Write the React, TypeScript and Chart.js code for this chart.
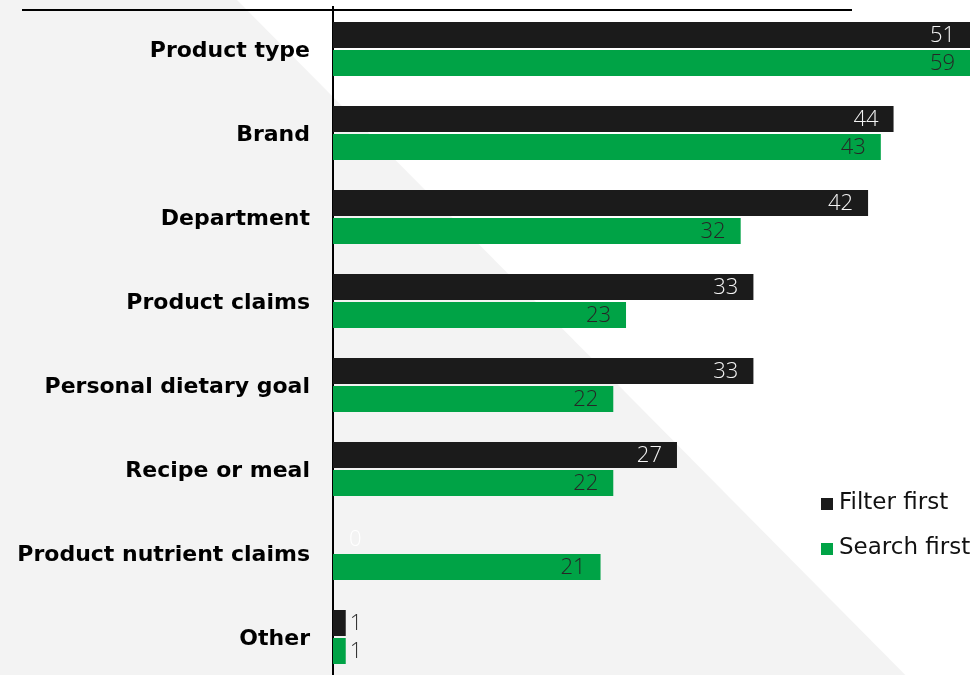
import React, { useEffect, useRef } from "react";
import { Chart, registerables } from "chart.js";

Chart.register(...registerables);

const categories = [
  "Product type",
  "Brand",
  "Department",
  "Product claims",
  "Personal dietary goal",
  "Recipe or meal",
  "Product nutrient claims",
  "Other",
];
const filterFirst = [51, 44, 42, 33, 33, 27, 0, 1];
const searchFirst = [59, 43, 32, 23, 22, 22, 21, 1];
const seriesNames = ["Filter first", "Search first"];
const seriesColors = ["#1b1b1b", "#00a346"];
const labelColors = ["#f4f4f4", "#262626"];

const VALUE_FONT = "300 22px 'Open Sans', 'DejaVu Sans', sans-serif";
const LEGEND_FONT = "400 23px 'DejaVu Sans', sans-serif";

const backgroundPlugin = {
  id: "bgShape",
  beforeDraw(chart: any) {
    const { ctx, width, height } = chart;
    ctx.save();
    ctx.fillStyle = "#ffffff";
    ctx.fillRect(0, 0, width, height);
    ctx.fillStyle = "#f3f3f3";
    ctx.beginPath();
    ctx.moveTo(0, 0);
    ctx.lineTo(237, 0);
    ctx.lineTo(237 + 0.99 * height, height);
    ctx.lineTo(0, height);
    ctx.closePath();
    ctx.fill();
    ctx.restore();
  },
  afterDraw(chart: any) {
    const { ctx } = chart;
    ctx.save();
    ctx.strokeStyle = "#000000";
    ctx.lineWidth = 2;
    ctx.beginPath();
    ctx.moveTo(22, 10);
    ctx.lineTo(852, 10);
    ctx.stroke();
    ctx.restore();
  },
};

const valueLabelPlugin = {
  id: "valueLabels",
  afterDatasetsDraw(chart: any) {
    const { ctx, chartArea } = chart;
    ctx.save();
    ctx.font = VALUE_FONT;
    ctx.textBaseline = "middle";
    chart.data.datasets.forEach((ds: any, di: number) => {
      const meta = chart.getDatasetMeta(di);
      meta.data.forEach((el: any, i: number) => {
        const v = ds.data[i];
        const text = String(v);
        const end = Math.min(el.x, chartArea.right);
        const tw = ctx.measureText(text).width;
        const w = end - el.base;
        if (w > tw + 24) {
          ctx.textAlign = "right";
          ctx.fillStyle = labelColors[di];
          ctx.fillText(text, end - 15, el.y + 1);
        } else {
          ctx.textAlign = "left";
          ctx.fillStyle = v === 0 ? "#ffffff" : "#333333";
          ctx.fillText(text, Math.max(end + 4, el.base + 16), el.y + 1);
        }
      });
    });
    ctx.restore();
  },
};

const legendPlugin = {
  id: "customLegend",
  afterDraw(chart: any) {
    const { ctx } = chart;
    ctx.save();
    ctx.font = LEGEND_FONT;
    ctx.textBaseline = "middle";
    ctx.textAlign = "left";
    chart.data.datasets.forEach((ds: any, di: number) => {
      const cy = 503 + di * 45;
      ctx.fillStyle = ds.backgroundColor;
      ctx.fillRect(821, cy - 5, 12, 12);
      ctx.fillStyle = "#111111";
      ctx.fillText(ds.label, 839, cy);
    });
    ctx.restore();
  },
};

export default function App() {
  const ref = useRef<HTMLCanvasElement | null>(null);
  useEffect(() => {
    if (!ref.current) return;
    const chart = new Chart(ref.current, {
      type: "bar",
      data: {
        labels: categories,
        datasets: [
          {
            label: seriesNames[0],
            data: filterFirst,
            backgroundColor: seriesColors[0],
            categoryPercentage: 0.667,
            barPercentage: 0.929,
            clip: 0,
          },
          {
            label: seriesNames[1],
            data: searchFirst,
            backgroundColor: seriesColors[1],
            categoryPercentage: 0.667,
            barPercentage: 0.929,
            clip: 0,
          },
        ] as any,
      },
      options: {
        indexAxis: "y",
        animation: false,
        responsive: true,
        maintainAspectRatio: false,
        layout: { padding: { top: 7, right: 9, bottom: 5, left: 0 } },
        plugins: {
          legend: { display: false },
          tooltip: { enabled: false },
        },
        scales: {
          x: { display: false, min: 0, max: 50 },
          y: {
            afterFit: (s: any) => {
              s.width = 333;
              s.paddingTop = 0;
              s.paddingBottom = 0;
            },
            grid: { display: false, drawTicks: false },
            border: { display: true, color: "#000000", width: 2 },
            ticks: {
              color: "#000000",
              padding: 23,
              labelOffset: 2,
              font: { family: "'DejaVu Sans', sans-serif", weight: "bold", size: 22 },
            },
          },
        },
      } as any,
      plugins: [backgroundPlugin, valueLabelPlugin, legendPlugin],
    });
    return () => chart.destroy();
  }, []);
  return (
    <div style={{ position: "fixed", left: 0, top: 0, width: 979, height: 684 }}>
      <canvas ref={ref} />
    </div>
  );
}
